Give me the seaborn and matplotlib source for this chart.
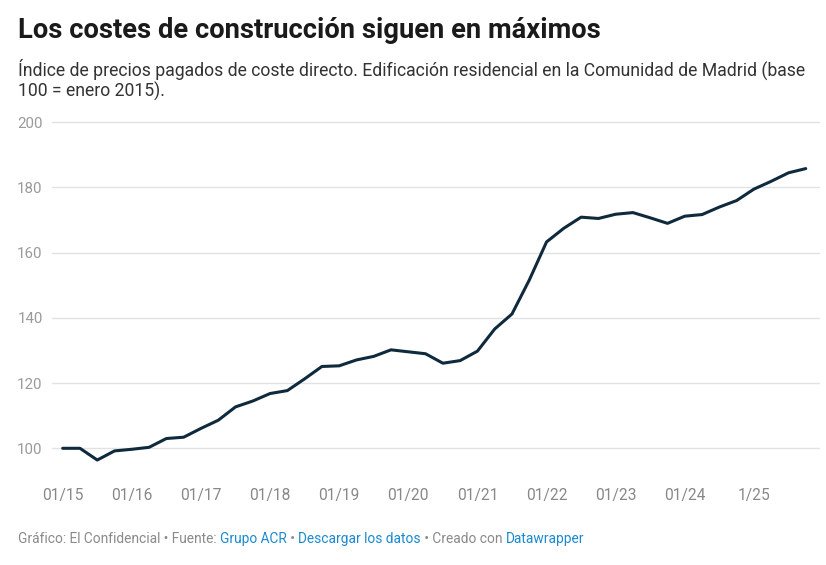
import matplotlib
matplotlib.use("Agg")
import matplotlib.pyplot as plt
import seaborn as sns
import pandas as pd

# Data (quarterly, base 100 = enero 2015)
quarters = ["01/15","04/15","07/15","10/15","01/16","04/16","07/16","10/16",
            "01/17","04/17","07/17","10/17","01/18","04/18","07/18","10/18",
            "01/19","04/19","07/19","10/19","01/20","04/20","07/20","10/20",
            "01/21","04/21","07/21","10/21","01/22","04/22","07/22","10/22",
            "01/23","04/23","07/23","10/23","01/24","04/24","07/24","10/24",
            "01/25","04/25","07/25","10/25"]
index_values = [100.0,100.0,96.4,99.2,99.7,100.3,103.0,103.4,
                106.1,108.6,112.7,114.5,116.8,117.7,121.3,125.1,
                125.3,127.1,128.2,130.2,129.6,129.0,126.1,126.9,
                129.8,136.6,141.2,151.6,163.3,167.5,170.9,170.5,
                171.8,172.3,170.7,169.0,171.2,171.7,174.0,176.0,
                179.5,181.9,184.5,185.8]
xtick_labels = ["01/15","01/16","01/17","01/18","01/19","01/20","01/21",
                "01/22","01/23","01/24","1/25"]
ytick_values = [100, 120, 140, 160, 180, 200]

title = "Los costes de construcción siguen en máximos"
subtitle = ("Índice de precios pagados de coste directo. Edificación residencial en la Comunidad de Madrid (base\n"
            "100 = enero 2015).")

sns.set_style("white")
plt.rcParams['font.family'] = ['Roboto', 'DejaVu Sans']

W, H = 826, 565
fig = plt.figure(figsize=(W/100, H/100), dpi=100)

# pixel geometry
x0_px, dx_px = 62.7, 17.28
left_px, right_px = 51.7, 820
y100_px, y200_px = 448.3, 122.3
ppu = (y100_px - y200_px) / 100.0
ylo, yhi = 92, 202
top_px = y200_px - (yhi - 200) * ppu
bot_px = y100_px + (100 - ylo) * ppu
xlo = (left_px - x0_px) / dx_px
xhi = (right_px - x0_px) / dx_px

ax = fig.add_axes([left_px / W, 1 - bot_px / H, (right_px - left_px) / W, (bot_px - top_px) / H])

df = pd.DataFrame({"i": range(len(quarters)), "quarter": quarters, "value": index_values})
sns.lineplot(data=df, x="i", y="value", ax=ax, color="#0f2a3d", linewidth=2.2)

ax.set_xlim(xlo, xhi)
ax.set_ylim(ylo, yhi)
ax.set_yticks(ytick_values)
ax.set_yticklabels([str(v) for v in ytick_values])
xt = [quarters.index(l) if l in quarters else quarters.index("01/25") for l in xtick_labels]
ax.set_xticks(xt)
ax.set_xticklabels(xtick_labels)
ax.set_xlabel("")
ax.set_ylabel("")
for s in ax.spines.values():
    s.set_visible(False)
ax.grid(axis="y", color="#e2e2e2", linewidth=1.0)
ax.grid(axis="x", visible=False)
ax.tick_params(axis="y", length=0, pad=6.5, labelsize=10.8, labelcolor="#9a9a9a")
ax.tick_params(axis="x", length=0, pad=10, labelsize=11.2, labelcolor="#888888")

fig.text(18 / W, 1 - 30 / H, title, fontsize=19.7, fontweight="bold", color="#1a1a1a",
         va="center", ha="left")
fig.text(18 / W, 1 - 59 / H, subtitle, fontsize=12.7, color="#333333",
         va="top", ha="left", linespacing=1.08)

# footer with coloured link parts
parts = [("Gráfico: El Confidencial • Fuente: ", "#8a8a8a"),
         ("Grupo ACR", "#1a8ad0"),
         (" • ", "#8a8a8a"),
         ("Descargar los datos", "#1a8ad0"),
         (" • Creado con ", "#8a8a8a"),
         ("Datawrapper", "#1a8ad0")]
fig.canvas.draw()
renderer = fig.canvas.get_renderer()
xpos = 18.0
for txt, col in parts:
    t = fig.text(xpos / W, 1 - 539 / H, txt, fontsize=9.9, color=col, va="center", ha="left")
    bb = t.get_window_extent(renderer=renderer)
    xpos += bb.width

fig.savefig("out.png", dpi=100)
